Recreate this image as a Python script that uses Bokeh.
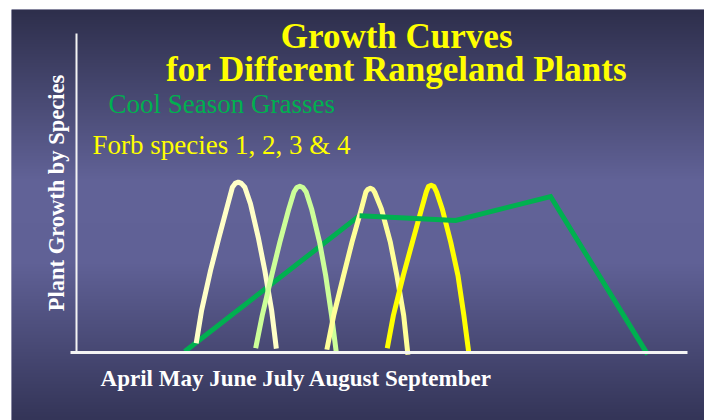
import numpy as np
from bokeh.plotting import figure
from bokeh.models import Range1d, LinearAxis, FixedTicker, Label
from bokeh.embed import file_html
from bokeh.resources import INLINE

# ---- data (x: weeks into the season, y: relative growth, 0-100) ----
grass_x = [4.60, 12.04, 16.13, 20.17, 24.30]
grass_y = [0.3, 42.9, 41.4, 48.9, -0.6]

forb1_x = [5.09, 5.32, 5.70, 6.06, 6.44, 6.63, 6.75, 6.88, 7.01, 7.16, 7.40, 7.73, 8.01, 8.30, 8.50]
forb1_y = [2.9, 13.2, 25.7, 36.1, 46.6, 51.8, 53.0, 53.4, 53.0, 51.8, 46.6, 36.1, 25.7, 13.2, 1.2]

forb2_x = [7.62, 7.90, 8.30, 8.65, 9.03, 9.25, 9.37, 9.50, 9.63, 9.77, 10.00, 10.34, 10.60, 10.85, 11.05]
forb2_y = [1.35, 11.6, 24.1, 34.6, 45.0, 50.3, 51.7, 52.1, 51.7, 50.3, 45.0, 34.6, 24.1, 11.6, 0.1]

forb3_x = [10.65, 10.94, 11.36, 11.72, 12.12, 12.31, 12.39, 12.50, 12.61, 12.68, 12.97, 13.35, 13.63, 13.92, 14.10]
forb3_y = [0.9, 11.6, 24.1, 34.6, 45.0, 50.3, 51.1, 51.5, 51.1, 50.3, 45.0, 34.6, 24.1, 11.6, -0.7]

forb4_x = [13.22, 13.48, 13.90, 14.29, 14.68, 14.88, 14.97, 15.09, 15.21, 15.32, 15.56, 15.92, 16.23, 16.48, 16.69]
forb4_y = [1.35, 11.6, 24.1, 34.6, 45.0, 50.3, 52.0, 52.4, 52.0, 50.3, 45.0, 34.6, 24.1, 11.6, -0.1]

title_lines = ["Growth Curves", "for Different Rangeland Plants"]
grass_label = "Cool Season Grasses"
forb_label = "Forb species 1, 2, 3 & 4"
month_text = "April May June July August September"
y_label = "Plant Growth by Species"

# ---- figure ----
X0, X1 = -2.77, 26.72
Y0, Y1 = -21.32, 107.52
p = figure(width=704, height=420, output_backend="svg", toolbar_location=None,
           x_range=Range1d(X0, X1), y_range=Range1d(Y0, Y1),
           x_axis_type=None, y_axis_type=None,
           min_border_left=11, min_border_top=9, min_border_right=0, min_border_bottom=0)
p.outline_line_color = None
p.border_fill_color = "white"
p.background_fill_color = "#4a4b78"
p.xgrid.visible = False
p.ygrid.visible = False

# background gradient (style only)
rows = 411
t = np.linspace(1.0, 0.0, rows)  # row 0 = bottom
stops_t = [0.0, 0.42, 0.62, 1.0]
stops_c = np.array([[46, 47, 76], [98, 99, 152], [96, 97, 150], [52, 53, 88]], dtype=float)
r = np.interp(t, stops_t, stops_c[:, 0])
g = np.interp(t, stops_t, stops_c[:, 1])
b = np.interp(t, stops_t, stops_c[:, 2])
img = np.zeros((rows, 2), dtype=np.uint32)
view = img.view(dtype=np.uint8).reshape((rows, 2, 4))
view[:, :, 0] = r[:, None].astype(np.uint8)
view[:, :, 1] = g[:, None].astype(np.uint8)
view[:, :, 2] = b[:, None].astype(np.uint8)
view[:, :, 3] = 255
p.image_rgba(image=[img], x=X0, y=Y0, dw=X1 - X0, dh=Y1 - Y0)

# axes drawn at the origin
yax = LinearAxis(fixed_location=0, bounds=(0, 100), ticker=FixedTicker(ticks=[]),
                 axis_line_color="#f4f4f4", axis_line_width=2,
                 major_tick_line_color=None, minor_tick_line_color=None,
                 major_label_text_font_size="0px",
                 axis_label=y_label, axis_label_standoff=8,
                 axis_label_text_font="Liberation Serif", axis_label_text_font_style="bold",
                 axis_label_text_font_size="22.5px", axis_label_text_color="white")
p.add_layout(yax, "left")
xax = LinearAxis(fixed_location=0, bounds=(-0.26, 26.0), ticker=FixedTicker(ticks=[]),
                 axis_line_color="#f4f4f4", axis_line_width=3,
                 major_tick_line_color=None, minor_tick_line_color=None,
                 major_label_text_font_size="0px")
p.add_layout(xax, "below")

# curves
forbs = [(forb1_x, forb1_y, "#ffffc8"), (forb2_x, forb2_y, "#ccff99"),
         (forb3_x, forb3_y, "#ffff99"), (forb4_x, forb4_y, "#ffff00")]
p.line(grass_x[:2], grass_y[:2], line_color="#00b050", line_width=5)
for fx, fy, c in forbs:
    p.line(fx, fy, line_color=c, line_width=5, line_join="round", line_cap="butt")
p.line(grass_x[1:], grass_y[1:], line_color="#00b050", line_width=5, line_join="miter")

# texts
serif = "Liberation Serif"
p.add_layout(Label(x=13.62, y=99.2, text=title_lines[0], text_align="center",
                   text_baseline="alphabetic", text_font=serif, text_font_style="bold",
                   text_font_size="35px", text_color="#ffff00"))
p.add_layout(Label(x=13.62, y=88.6, text=title_lines[1], text_align="center",
                   text_baseline="alphabetic", text_font=serif, text_font_style="bold",
                   text_font_size="35px", text_color="#ffff00"))
p.add_layout(Label(x=1.36, y=77.8, text=grass_label, text_align="left",
                   text_baseline="alphabetic", text_font=serif,
                   text_font_size="27px", text_color="#00b050"))
p.add_layout(Label(x=0.68, y=65.1, text=forb_label, text_align="left",
                   text_baseline="alphabetic", text_font=serif,
                   text_font_size="27px", text_color="#ffff00"))
p.add_layout(Label(x=1.02, y=-8.0, text=month_text, text_align="left",
                   text_baseline="alphabetic", text_font=serif, text_font_style="bold",
                   text_font_size="23px", text_color="white"))

open("out.html", "w").write(file_html(p, INLINE))
